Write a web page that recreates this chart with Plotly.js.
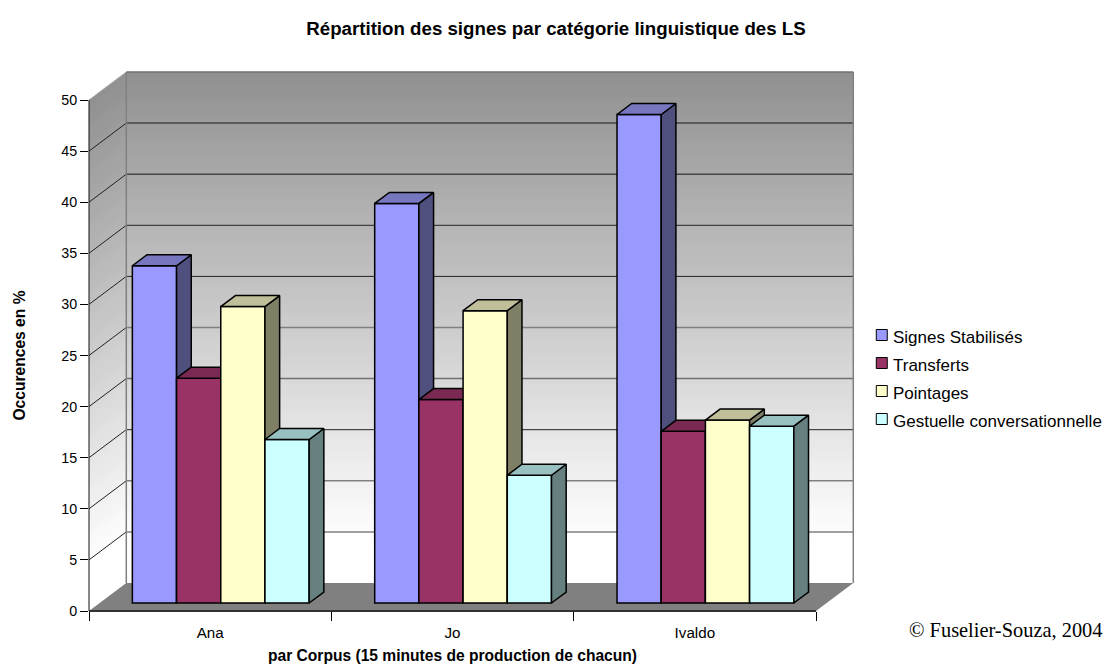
<!DOCTYPE html>
<html><head><meta charset="utf-8">
<script src="https://cdn.plot.ly/plotly-3.0.1.min.js"></script>
<style>html,body{margin:0;padding:0;background:#fff;overflow:hidden}#c{width:1104px;height:664px}</style>
</head><body><div id="c"></div>
<script>
const categories = ['Ana','Jo','Ivaldo'];
const seriesNames = ['Signes Stabilisés','Transferts','Pointages','Gestuelle conversationnelle'];
const signes = [33, 39.1, 47.8];
const transferts = [22, 19.9, 16.8];
const pointages = [29, 28.6, 17.9];
const gestuelle = [16, 12.5, 17.3];
const yTicks = [0,5,10,15,20,25,30,35,40,45,50];
const gridColors = ['#808080','#808080','#222','#707070','#808080','#222','#222','#444','#444'];
const gridWidths = [1.5,1.5,1,1.5,1.5,1,1,1.5,1.5];
const frontColors = ['#9999ff','#993366','#ffffcc','#ccffff'];
const sideColors = ['#50507f','#4d1933','#7f7f66','#668080'];
const topColors = ['#7777bf','#7a2a52','#bfbf99','#99c0c0'];
const seriesValues = [signes,transferts,pointages,gestuelle];

// projection constants, in axis units
const WALL_DX = 0.1539, WALL_DY = 2.74;   // depth of the 3D box
const BAR_DX = 0.0606, BAR_DY = 1.076;    // depth of a bar
const BAR_W = 0.1824, LIFT_X = 0.0437, LIFT_Y = 0.783; // bar width and offset from the front of the floor
const XMAX = 3, YMAX = 50;
const px = x => x / XMAX, py = y => y / YMAX;
const pagex = p => (p - 88.5) / 727.2, pagey = p => (611 - p) / 511;

const shapes = [];
function poly(points, fill, line) {
  shapes.push({type:'path', xref:'paper', yref:'paper', layer:'below',
    path:'M' + points.map(p => px(p[0]) + ',' + py(p[1])).join('L') + 'Z',
    fillcolor:fill, line: line || {width:0}});
}
function seg(x0,y0,x1,y1,color,width,layer){
  shapes.push({type:'line', xref:'paper', yref:'paper', layer:layer||'below',
    x0:px(x0), y0:py(y0), x1:px(x1), y1:py(y1), line:{color:color,width:width}});
}
// wall gradient strips: dark grey at the top, white just above the floor
const STRIPS = 100, xR = XMAX + WALL_DX;
for (let i = 0; i < STRIPS; i++) {
  const a = YMAX * i / STRIPS, b = Math.min(YMAX * (i + 1.15) / STRIPS, YMAX), t = (i + .5) / STRIPS;
  const g = Math.min(255, Math.round(144 + 111 * (1 - t) / 0.916)), col = `rgb(${g},${g},${g})`;
  poly([[WALL_DX,a+WALL_DY],[xR,a+WALL_DY],[xR,b+WALL_DY],[WALL_DX,b+WALL_DY]], col);
  poly([[0,a],[WALL_DX,a+WALL_DY],[WALL_DX,b+WALL_DY],[0,b]], col);
}
// floor
poly([[0,0],[WALL_DX,WALL_DY],[xR,WALL_DY],[XMAX,0]], '#808080');
// gridlines
yTicks.slice(1,-1).forEach((v,i) => {
  seg(0,v,WALL_DX,v+WALL_DY,'#222',1);
  seg(WALL_DX,v+WALL_DY,xR,v+WALL_DY,gridColors[i],gridWidths[i]);
});
// wall edges
seg(WALL_DX,WALL_DY,WALL_DX,YMAX+WALL_DY,'#808080',1.5);
seg(WALL_DX,YMAX+WALL_DY,xR,YMAX+WALL_DY,'#707070',1.5);
seg(xR,WALL_DY,xR,YMAX+WALL_DY,'#808080',1.5);
seg(0,YMAX,WALL_DX,YMAX+WALL_DY,'#a8a8a8',1);
// axis lines
seg(0,0,0,YMAX,'#111',1,'above');
seg(0,0,XMAX,0,'#333',2,'above');

// legend
const annotations = [];
seriesNames.forEach((n,i) => {
  const top = 329.5 + 28*i;
  shapes.push({type:'rect', xref:'paper', yref:'paper', x0:pagex(876), x1:pagex(887),
    y0:pagey(top), y1:pagey(top+11), fillcolor:frontColors[i], line:{color:'#000',width:1}});
  annotations.push({xref:'paper', yref:'paper', x:pagex(890.5), y:pagey(top+7.5), xanchor:'left', yanchor:'middle',
    showarrow:false, text:n, font:{family:'Liberation Sans', size:17, color:'#000'}});
});
annotations.push({xref:'paper', yref:'paper', x:pagex(1104), y:pagey(630), xanchor:'right', yanchor:'middle',
  showarrow:false, text:'© Fuselier-Souza, 2004', font:{family:'Liberation Serif', size:20.4, color:'#000'}});

// bars
const traces = [];
const nS = seriesValues.length;
seriesValues.forEach((vals,s) => {
  const xs = vals.map((v,i) => i + 0.5 + LIFT_X + (s - (nS-1)/2) * BAR_W);
  const edge = {color:'#000', width:1.5};
  const sideX=[], sideY=[], topX=[], topY=[];
  vals.forEach((v,i) => {
    const l = xs[i]-BAR_W/2, r = xs[i]+BAR_W/2, t = v+LIFT_Y, b = LIFT_Y;
    sideX.push(r,r+BAR_DX,r+BAR_DX,r,r,null);
    sideY.push(b,b+BAR_DY,t+BAR_DY,t,b,null);
    topX.push(l,l+BAR_DX,r+BAR_DX,r,l,null);
    topY.push(t,t+BAR_DY,t+BAR_DY,t,t,null);
  });
  traces.push({type:'scatter', mode:'lines', x:sideX, y:sideY, fill:'toself', fillcolor:sideColors[s], line:edge,
    hoverinfo:'skip', showlegend:false, zorder:s, cliponaxis:false});
  traces.push({type:'scatter', mode:'lines', x:topX, y:topY, fill:'toself', fillcolor:topColors[s], line:edge,
    hoverinfo:'skip', showlegend:false, zorder:s, cliponaxis:false});
  traces.push({type:'bar', name:seriesNames[s], x:xs, y:vals, base:LIFT_Y, width:BAR_W,
    marker:{color:frontColors[s], line:edge}, showlegend:false, zorder:s, cliponaxis:false,
    customdata:vals.map((v,i)=>categories[i]), hovertemplate:'%{customdata}: %{y}<extra>'+seriesNames[s]+'</extra>'});
});

const layout = {
  width:1104, height:664, margin:{l:88.5,r:288.3,t:100,b:53,autoexpand:false},
  paper_bgcolor:'#fff', plot_bgcolor:'rgba(0,0,0,0)', showlegend:false, barmode:'overlay',
  font:{family:'Liberation Sans', color:'#000'},
  title:{text:'<b>Répartition des signes par catégorie linguistique des LS</b>', x:556/1104, xanchor:'center',
    xref:'container', yref:'container', y:1-28/664, yanchor:'middle', font:{family:'Liberation Sans', size:18.7, color:'#000'}},
  xaxis:{range:[0,XMAX], fixedrange:true, showgrid:false, zeroline:false, showline:false,
    tickmode:'array', tickvals:[0.5,1.5,2.5], ticktext:categories, ticks:'', tickfont:{size:15.2}, ticklabelstandoff:11,
    minor:{tickmode:'array', tickvals:[0,1,2,3], ticks:'outside', ticklen:9, tickcolor:'#000', tickwidth:1, showgrid:false},
    title:{text:'<b>par Corpus (15 minutes de production de chacun)</b>', font:{size:15.6}, standoff:9}},
  yaxis:{range:[0,YMAX], fixedrange:true, showgrid:false, zeroline:false, showline:false,
    tickmode:'array', tickvals:yTicks, ticks:'outside', ticklen:8, tickcolor:'#000', tickfont:{size:14.3},
    title:{text:'<b>Occurences en %</b>', font:{size:15.6}, standoff:31.5}},
  shapes, annotations
};
Plotly.newPlot('c', traces, layout, {displayModeBar:false});
</script></body></html>
